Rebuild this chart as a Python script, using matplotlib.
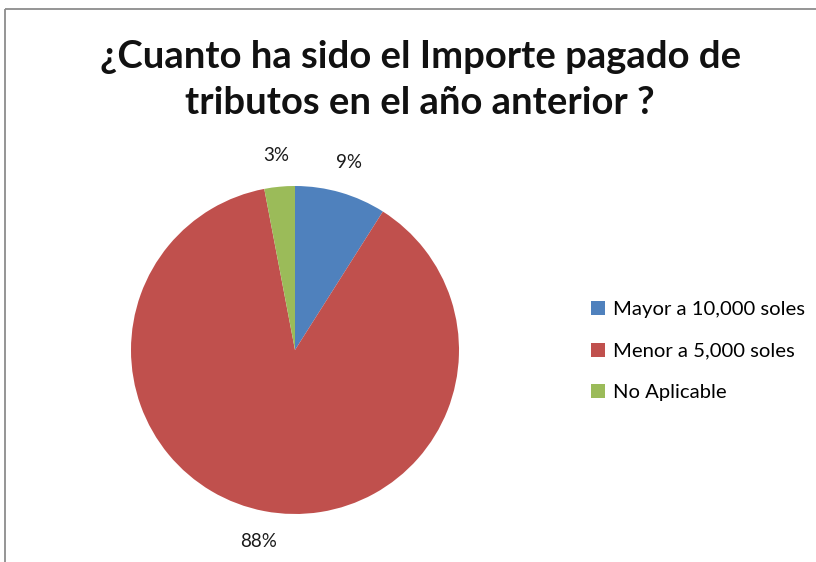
import matplotlib
matplotlib.use("Agg")
import matplotlib.pyplot as plt

title = "¿Cuanto ha sido el Importe pagado de\ntributos en el año anterior ?"
categories = ["Mayor a 10,000 soles", "Menor a 5,000 soles", "No Aplicable"]
values = [9, 88, 3]
colors = ["#4F81BD", "#C0504D", "#9BBB59"]

W, H = 816, 562
fig = plt.figure(figsize=(W / 100, H / 100), dpi=100)
ax = fig.add_axes([0, 0, 1, 1])

# chart frame: top and left edges are visible
ax.plot([5, W], [H - 9, H - 9], color="#8c8c8c", linewidth=1.3,
        solid_capstyle="butt")
ax.plot([5, 5], [0, H - 9], color="#8c8c8c", linewidth=1.3,
        solid_capstyle="butt")

font = "Lato"

wedges, texts, autotexts = ax.pie(
    values, colors=colors, startangle=90, counterclock=False,
    center=(295, H - 350), radius=164, frame=True,
    autopct="%.0f%%", pctdistance=1.19,
    textprops=dict(fontsize=13.5, color="#1a1a1a", family=font),
)
ax.set_xlim(0, W)
ax.set_ylim(0, H)
ax.set_aspect("equal")
ax.axis("off")

fig.text(0.515, 1 - 80 / H, title, ha="center", va="center",
         fontsize=27.5, fontweight="bold", family=font, color="#111111",
         linespacing=1.45)

leg = ax.legend(wedges, categories, loc="upper left",
                bbox_to_anchor=(583 / W, 1 - 293 / H),
                bbox_transform=fig.transFigure,
                frameon=False, prop=dict(family=font, size=14.6),
                handlelength=0.7, handleheight=0.7, handletextpad=0.4,
                labelspacing=1.2, borderaxespad=0)

fig.savefig("out.png", dpi=100)
